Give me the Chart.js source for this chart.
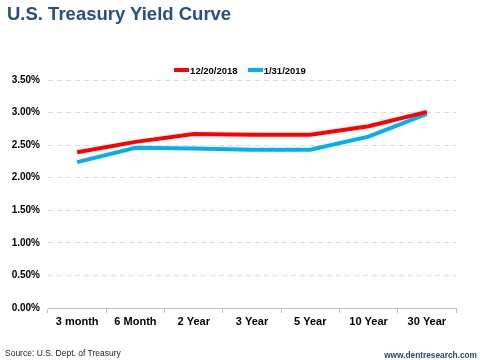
<!DOCTYPE html>
<html>
<head>
<meta charset="utf-8">
<script src="https://cdn.jsdelivr.net/npm/chart.js@4"></script>
<style>
  body { margin: 0; background: #fff; }
  .wrap { position: relative; width: 480px; height: 360px; font-family: "Liberation Sans", Arial, sans-serif; }
  .wrap canvas { position: absolute; left: 0; top: 0; }
  .title { position: absolute; left: 7px; top: 3px; font-size: 18.5px; font-weight: bold; color: #264f87; }
  .legend { position: absolute; left: 0; width: 480px; top: 65px; text-align: center; font-size: 9.5px; font-weight: bold; color: #000; }
  .legend span { display: inline-block; margin: 0 5px; }
  .legend i { display: inline-block; width: 15px; height: 4px; vertical-align: middle; margin-right: 1px; position: relative; top: -1px; }
  .src { position: absolute; left: 5px; top: 348px; font-size: 8.5px; color: #222; }
  .site { position: absolute; right: 3px; top: 350px; font-size: 8.3px; font-weight: bold; color: #2b4670; }
</style>
</head>
<body>
<div class="wrap">
  <canvas id="c" width="480" height="360"></canvas>
  <div class="title">U.S. Treasury Yield Curve</div>
  <div class="legend" id="legend"></div>
  <div class="src">Source: U.S. Dept. of Treasury</div>
  <div class="site">www.dentresearch.com</div>
</div>
<script>
const maturities = ["3 month", "6 Month", "2 Year", "3 Year", "5 Year", "10 Year", "30 Year"];
const dec2018 = [2.39, 2.55, 2.67, 2.66, 2.66, 2.79, 3.01];
const jan2019 = [2.24, 2.46, 2.45, 2.43, 2.43, 2.63, 2.98];
const seriesNames = ["12/20/2018", "1/31/2019"];
const seriesColors = ["#ff0000", "#00b0f0"];

const datasets = [dec2018, jan2019].map((d, i) => ({
  label: seriesNames[i],
  data: d,
  borderColor: seriesColors[i],
  backgroundColor: seriesColors[i],
  borderWidth: 4,
  pointRadius: 0,
  tension: 0,
  fill: false
}));

document.getElementById("legend").innerHTML = seriesNames
  .map((n, i) => `<span><i style="background:${seriesColors[i]}"></i>${n}</span>`)
  .join("");

const tickFont = { family: "'Liberation Sans', Arial, sans-serif", weight: "bold" };

new Chart(document.getElementById("c"), {
  type: "line",
  data: { labels: maturities, datasets: datasets },
  options: {
    responsive: false,
    animation: false,
    layout: { padding: { top: 80, right: 24, left: 0, bottom: 0 } },
    plugins: { legend: { display: false }, tooltip: { enabled: false } },
    scales: {
      x: {
        offset: true,
        grid: { offset: true, drawOnChartArea: false, drawTicks: true, tickLength: 5, color: "#bfbfbf" },
        border: { color: "#bfbfbf" },
        ticks: { color: "#000", font: { ...tickFont, size: 11 }, padding: 2, maxRotation: 0, autoSkip: false },
        afterFit: s => { s.height = 52; }
      },
      y: {
        min: 0,
        max: 3.5,
        grid: { color: "#dcdcdc", drawTicks: false },
        border: { display: false, dash: [5, 4] },
        ticks: {
          stepSize: 0.5,
          color: "#000",
          font: { ...tickFont, size: 10 },
          padding: 8,
          callback: v => v.toFixed(2) + "%"
        },
        afterFit: s => { s.width = 48; }
      }
    }
  }
});
</script>
</body>
</html>
